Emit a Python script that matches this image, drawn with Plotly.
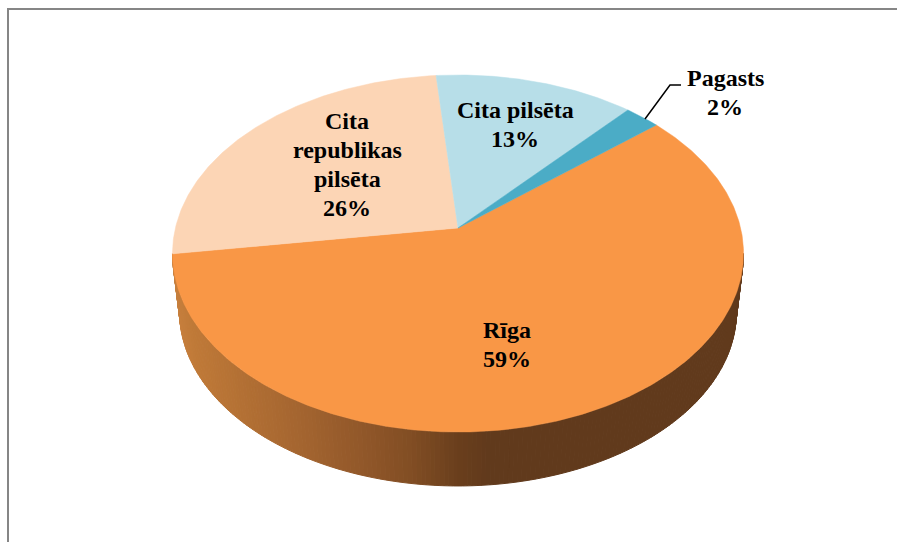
import numpy as np
import plotly.graph_objects as go

# Data
categories = ["Rīga", "Cita republikas pilsēta", "Cita pilsēta", "Pagasts"]
values = [58.8, 25.9, 13.0, 2.3]
label_lines = [["Rīga"], ["Cita", "republikas", "pilsēta"], ["Cita pilsēta"], ["Pagasts"]]

# Style
face_colors = ["#F99746", "#FCD5B5", "#B7DEE8", "#4BACC6"]
label_xy = [(507, 344), (347, 164.5), (515, 124), (725, 92.5)]
line_step = 29
start_angle = 50.0
cx, apex_y, rx, ry, persp = 458.0, 228.0, 282.6, 174.9, 1 / 7
lower_scale, lower_apex_y = 0.975, 287.0
grad_x = [172, 190, 300, 360, 410, 458, 490, 745]
grad_r = [200, 192, 164, 146, 130, 106, 97, 97]
grad_g = [128, 122, 101, 88, 78, 63, 58, 58]
grad_b = [62, 56, 48, 42, 36, 29, 28, 28]


def project(angle_deg, scale=1.0, y0=apex_y):
    a = np.radians(angle_deg)
    u, v = np.sin(a), np.cos(a)
    d = 1 / (1 + persp * v)
    return cx + scale * rx * u * d, y0 - scale * ry * v * d


fig = go.Figure()

# Side wall: narrow strips along the front half, shaded by horizontal position
front_start = np.degrees(np.arccos(-persp))
edges = np.linspace(front_start, 360 - front_start, 201)
for a0, a1 in zip(edges[:-1], edges[1:]):
    x0, y0 = project(a0)
    x1, y1 = project(a1)
    x2, y2 = project(a1, lower_scale, lower_apex_y)
    x3, y3 = project(a0, lower_scale, lower_apex_y)
    xm = (x0 + x1) / 2
    col = "rgb(%d,%d,%d)" % (np.interp(xm, grad_x, grad_r), np.interp(xm, grad_x, grad_g), np.interp(xm, grad_x, grad_b))
    fig.add_trace(go.Scatter(x=[x0, x1, x2, x3, x0], y=[y0, y1, y2, y3, y0], mode="lines",
                             fill="toself", fillcolor=col, line=dict(color=col, width=1),
                             hoverinfo="skip", showlegend=False))

# Top faces, from the values
total = sum(values)
angle = start_angle
for name, value, color in zip(categories, values, face_colors):
    sweep = 360 * value / total
    arc = np.linspace(angle, angle + sweep, max(int(sweep * 2), 8))
    ax, ay = project(arc)
    fig.add_trace(go.Scatter(x=np.r_[cx, ax, cx], y=np.r_[apex_y, ay, apex_y], mode="lines",
                             fill="toself", fillcolor=color, line=dict(color=color, width=0.5),
                             name=name, hoverinfo="skip", showlegend=False))
    angle += sweep

# Leader line for the small slice
fig.add_trace(go.Scatter(x=[645, 670, 681], y=[119, 85, 85], mode="lines",
                         line=dict(color="#000000", width=1.5), hoverinfo="skip", showlegend=False))

# Chart frame (top and left only)
fig.add_trace(go.Scatter(x=[8, 8, 897], y=[542, 9, 9], mode="lines",
                         line=dict(color="#868686", width=2), hoverinfo="skip", showlegend=False))

# Labels, one annotation per line to hold the tighter line spacing
for lines, value, (lx, ly) in zip(label_lines, values, label_xy):
    rows = lines + [f"{round(value)}%"]
    for i, row in enumerate(rows):
        fig.add_annotation(x=lx, y=ly + (i - (len(rows) - 1) / 2) * line_step, text=f"<b>{row}</b>",
                           showarrow=False, xanchor="center", yanchor="middle", align="center",
                           font=dict(family="Liberation Serif", size=24, color="#000000"))

fig.update_layout(width=897, height=542, margin=dict(l=0, r=0, t=0, b=0), showlegend=False,
                  paper_bgcolor="#FFFFFF", plot_bgcolor="#FFFFFF",
                  xaxis=dict(range=[0, 897], visible=False, fixedrange=True),
                  yaxis=dict(range=[542, 0], visible=False, fixedrange=True))

fig.write_html("out.html", config={"displayModeBar": False},
               post_script="document.body.style.margin='0';document.body.style.overflow='hidden';")
